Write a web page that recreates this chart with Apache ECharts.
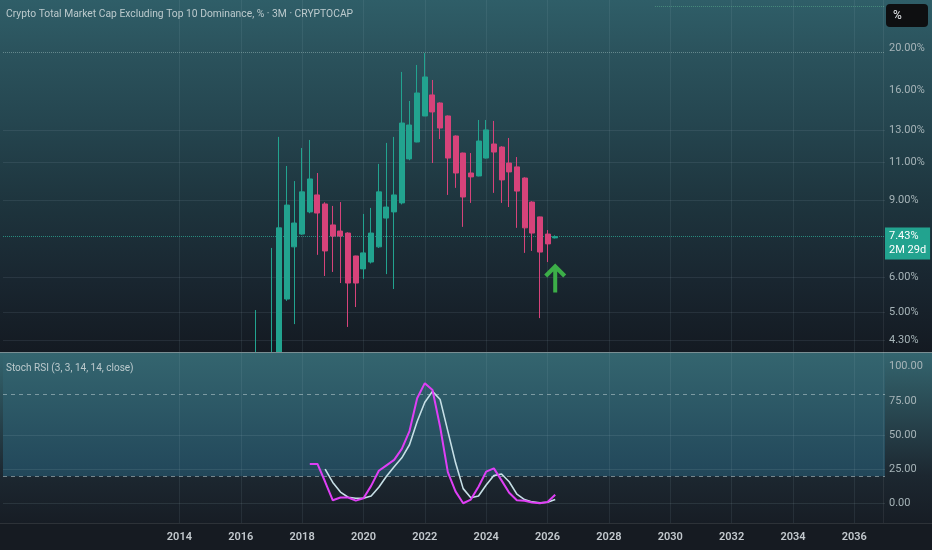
<!DOCTYPE html>
<html>
<head>
<meta charset="utf-8">
<script src="https://cdn.jsdelivr.net/npm/echarts@6/dist/echarts.min.js"></script>
<style>
html,body{margin:0;padding:0;background:#161b22;}
#c{width:932px;height:550px;
background:linear-gradient(to bottom,
 #2f5e68 0px,#2b535d 50px,#254650 120px,#1e353e 200px,#192630 280px,#141a22 352px,
 #34656f 353px,#1c2730 476px,#171d25 523px,#161b22 523px,#161b22 550px);}
</style>
</head>
<body>
<div id="c"></div>
<script>
// ---------- data ----------
const titleText = 'Crypto Total Market Cap Excluding Top 10 Dominance, % · 3M · CRYPTOCAP';
const stochTitle = 'Stoch RSI (3, 3, 14, 14, close)';

const candleQuarters = ['2016-Q3','2016-Q4','2017-Q1','2017-Q2','2017-Q3','2017-Q4',
 '2018-Q1','2018-Q2','2018-Q3','2018-Q4','2019-Q1','2019-Q2','2019-Q3','2019-Q4',
 '2020-Q1','2020-Q2','2020-Q3','2020-Q4','2021-Q1','2021-Q2','2021-Q3','2021-Q4',
 '2022-Q1','2022-Q2','2022-Q3','2022-Q4','2023-Q1','2023-Q2','2023-Q3','2023-Q4',
 '2024-Q1','2024-Q2','2024-Q3','2024-Q4','2025-Q1','2025-Q2','2025-Q3','2025-Q4',
 '2026-Q1','2026-Q2'];
const opens  = [3.3,3.6,3.5,3.9,5.35,7.04, 7.53,8.46,9.25,8.82, 7.90,7.65,7.57,6.71,
 6.27,6.50,7.04,8.19, 8.46,8.87,11.18,12.22, 14.01,15.65,15.0,14.01, 12.61,11.53,10.38,10.22,
 11.23,12.09,11.90,10.94, 10.72,10.11,8.91,8.24, 7.53,7.38];
const closes = [3.6,3.5,3.9,7.78,8.77,7.98, 9.40,10.06,8.41,6.89, 7.45,7.45,5.82,5.82,
 6.82,7.57,9.40,8.68, 9.25,13.50,13.36,15.81, 17.20,14.31,13.15,11.23, 10.38,9.15,10.17,12.28,
 13.02,11.59,10.01,10.44, 9.44,7.78,7.57,6.85, 7.15,7.43];
const lows   = [3.1,3.2,3.3,3.7,5.3,4.69, 7.5,8.4,6.75,6.04, 6.17,5.82,4.62,5.13,
 5.95,6.45,7.0,6.1, 5.64,8.8,11.1,12.2, 14.0,10.94,12.41,9.25, 9.60,7.82,8.87,10.2,
 11.2,9.35,8.87,8.68, 7.78,6.82,6.89,4.84, 6.50,7.36];
const highs  = [5.05,3.95,7.0,12.55,10.77,9.95, 11.84,12.35,10.38,8.9, 8.73,8.91,7.6,6.72,
 8.37,8.64,10.89,12.16, 12.55,17.66,15.16,18.32, 19.51,16.93,15.05,14.05, 12.65,11.55,11.53,13.72,
 13.72,13.65,11.95,12.48, 11.29,10.15,8.95,8.25, 7.69,7.48];

const kQuarters = candleQuarters.slice(candleQuarters.indexOf('2018-Q2'));
const kValues = [29,29,16, 2.5,4.5,4.5,2.2, 4,13,24,28, 32,40,53,77, 88,83,56,23,
 9,0.3,3,12.4, 23.4,25.8,17,8, 2.5,2.2,0.8,0.3, 1.2,6.5];
const dQuarters = candleQuarters.slice(candleQuarters.indexOf('2018-Q4'));
const dValues = [25.3, 15.5,8.5,4.7,4, 4,5.6,12,20, 27,33.5,43,60, 74,82,76,53,
 30,11,4.3,5.6, 13.6,20.5,21.7,16, 7,3,1.3,0.7, 1,3];

const priceTicks = [20,16,13,11,9,6,5,4.3];
const priceGridLines = [13,11,9,6,5,4.3];
const stochTicks = [100,75,50,25,0];
const stochGridLines = [50,25,0];
const stochBands = [80,20];
const yearLabels = ['2014','2016','2018','2020','2022','2024','2026','2028','2030','2032','2034','2036'];
const lastPrice = 7.43;
const lastPriceCountdown = '2M 29d';
const highLineValue = 19.6;
const topLine = {from:'2029-Q3', to:'2037-Q1', value:25};
const arrowAt = ['2026-Q2', 5.98];

// axis categories: quarters 2008-Q2 .. 2037-Q1
const categories = [];
for (let y = 2008; y <= 2037; y++) {
  for (let q = 1; q <= 4; q++) {
    if (y === 2008 && q < 2) continue;
    if (y === 2037 && q > 1) continue;
    categories.push(y + '-Q' + q);
  }
}
const isYearTick = (idx, val) => {
  const v = typeof val === 'string' ? val : categories[idx];
  return v.endsWith('-Q1') && yearLabels.indexOf(v.slice(0,4)) >= 0;
};

const candleData = candleQuarters.map((q,i) => [q, opens[i], closes[i], lows[i], highs[i]]);
const kData = kQuarters.map((q,i) => [q, kValues[i]]);
const dData = dQuarters.map((q,i) => [q, dValues[i]]);

// ---------- chart ----------
const UP = '#22a38f', DOWN = '#d6437a';
const FONT = 'Roboto, sans-serif';
const HIDDEN = 'rgba(0,0,0,0)';
const chart = echarts.init(document.getElementById('c'), null, {renderer:'canvas'});

const priceMarks = priceTicks.map(v => ({
  yAxis: v,
  lineStyle: priceGridLines.indexOf(v) >= 0 ? {} : {color: HIDDEN}
}));
priceMarks.push({
  yAxis: highLineValue,
  lineStyle: {type:'dotted', color:'rgba(150,180,180,0.55)', width:1},
  label: {show:false}
});
priceMarks.push([
  {coord:[topLine.from, topLine.value], lineStyle:{type:'dotted', color:'rgba(90,170,140,0.6)', width:1}, label:{show:false}},
  {coord:[topLine.to, topLine.value]}
]);
priceMarks.push({
  yAxis: lastPrice,
  lineStyle: {type:'dotted', color:'rgba(45,170,150,0.75)', width:1},
  label: {
    show:true, position:'end', distance:0,
    formatter: lastPrice.toFixed(2) + '%\n' + lastPriceCountdown,
    backgroundColor: UP, color:'#ffffff', padding:[2,4,2,4],
    lineHeight:14, fontSize:11, fontFamily:FONT, offset:[0,7]
  }
});

const stochMarks = stochTicks.map(v => ({
  yAxis: v,
  lineStyle: stochGridLines.indexOf(v) >= 0 ? {} : {color: HIDDEN}
}));
stochBands.forEach(v => stochMarks.push({
  yAxis: v,
  lineStyle: {type:[4,4], color:'rgba(190,205,210,0.55)', width:1},
  label: {show:false}
}));

const arrowPath = 'path://M11,0 L22,11 L19,14 L13,8 L13,29 L9,29 L9,8 L3,14 L0,11 Z';

chart.setOption({
  animation: false,
  backgroundColor: 'transparent',
  textStyle: {fontFamily: FONT},
  title: [
    {text: titleText, left: 6, top: 9, padding: 0, z: 20,
     textStyle: {color:'#bccacd', fontSize:10.3, fontWeight:'normal', fontFamily:FONT}},
    {text: stochTitle, left: 6, top: 363, padding: 0, z: 20,
     textStyle: {color:'#bccacd', fontSize:10, fontWeight:'normal', fontFamily:FONT}}
  ],
  grid: [
    {left:3, right:47, top:0, height:352},
    {left:3, right:47, top:353, height:170}
  ],
  xAxis: [
    {type:'category', gridIndex:0, data:categories, boundaryGap:false,
     axisLine:{show:false}, axisTick:{show:false}, axisLabel:{show:false},
     splitLine:{show:true, interval:isYearTick, lineStyle:{color:'rgba(170,195,205,0.10)', width:1}}},
    {type:'category', gridIndex:1, data:categories, boundaryGap:false, z:3,
     axisLine:{show:false}, axisTick:{show:false},
     axisLabel:{show:true, interval:isYearTick, formatter: v => v.slice(0,4),
       color:'#c3c9ce', fontSize:11, fontWeight:600, margin:9, fontFamily:FONT},
     splitLine:{show:true, interval:isYearTick, lineStyle:{color:'rgba(170,195,205,0.10)', width:1}}}
  ],
  yAxis: [
    {type:'log', gridIndex:0, min:4.05, max:25.78,
     axisLine:{show:false}, axisTick:{show:false}, axisLabel:{show:false}, splitLine:{show:false}},
    {type:'value', gridIndex:1, min:-14.1, max:110,
     axisLine:{show:false}, axisTick:{show:false}, axisLabel:{show:false}, splitLine:{show:false}}
  ],
  series: [
    {
      type:'candlestick', name:'price', xAxisIndex:0, yAxisIndex:0, z:2,
      data: candleData, encode:{x:0, y:[1,2,3,4]},
      barWidth: 5.5, clip: true,
      itemStyle:{color:UP, color0:DOWN, borderColor:UP, borderColor0:DOWN, borderWidth:1},
      markLine:{
        silent:true, symbol:['none','none'], z:1,
        lineStyle:{color:'rgba(170,195,205,0.11)', width:1, type:'solid'},
        label:{show:true, position:'end', distance:4, color:'#a6b4b8', fontSize:11, fontFamily:FONT,
          formatter: p => Number(p.value).toFixed(2) + '%'},
        data: priceMarks
      },
      markPoint:{
        silent:true, symbol: arrowPath, symbolSize:[22,29], symbolKeepAspect:false, z:6,
        itemStyle:{color:'#3cae48'}, label:{show:false},
        data:[{coord: arrowAt}]
      }
    },
    {
      type:'line', name:'K', xAxisIndex:1, yAxisIndex:1, data:kData,
      showSymbol:false, symbol:'none', z:5,
      lineStyle:{color:'#df3ff5', width:2},
      markArea:{
        silent:true, z:2.7,
        itemStyle:{color: new echarts.graphic.LinearGradient(0,0,0,1,[
          {offset:0, color:'#34656f'}, {offset:1, color:'#22475a'}])},
        data:[[{yAxis: stochBands[1]}, {yAxis: 110}]]
      }
    },
    {
      type:'line', name:'D', xAxisIndex:1, yAxisIndex:1, data:dData,
      showSymbol:false, symbol:'none', z:4,
      lineStyle:{color:'#c6dfe6', width:1.6},
      markLine:{
        silent:true, symbol:['none','none'], z:3.5,
        lineStyle:{color:'rgba(170,195,205,0.12)', width:1, type:'solid'},
        label:{show:true, position:'end', distance:4, color:'#a6b4b8', fontSize:11, fontFamily:FONT,
          formatter: p => Number(p.value).toFixed(2)},
        data: stochMarks
      }
    }
  ],
  graphic: [
    {type:'rect', silent:true, z:2.5, shape:{x:0, y:353, width:932, height:170},
     style:{fill: new echarts.graphic.LinearGradient(0,0,0,1,[
       {offset:0, color:'#34656f'}, {offset:0.724, color:'#1c2730'}, {offset:1, color:'#171d25'}])}},
    {type:'rect', silent:true, z:10, shape:{x:0, y:352, width:932, height:1}, style:{fill:'#7a8e93'}},
    {type:'rect', silent:true, z:10, shape:{x:883, y:0, width:1, height:523}, style:{fill:'rgba(255,255,255,0.07)'}},
    {type:'rect', silent:true, z:10, shape:{x:0, y:523, width:932, height:1}, style:{fill:'rgba(255,255,255,0.10)'}},
    {type:'rect', silent:true, z:10, shape:{x:886, y:4, width:42, height:23, r:4}, style:{fill:'#0e0f11'}},
    {type:'text', silent:true, z:11, x:893, y:15.5, style:{text:'%', fill:'#e8eaed', font:'12px Roboto', verticalAlign:'middle'}}
  ]
});
</script>
</body>
</html>
